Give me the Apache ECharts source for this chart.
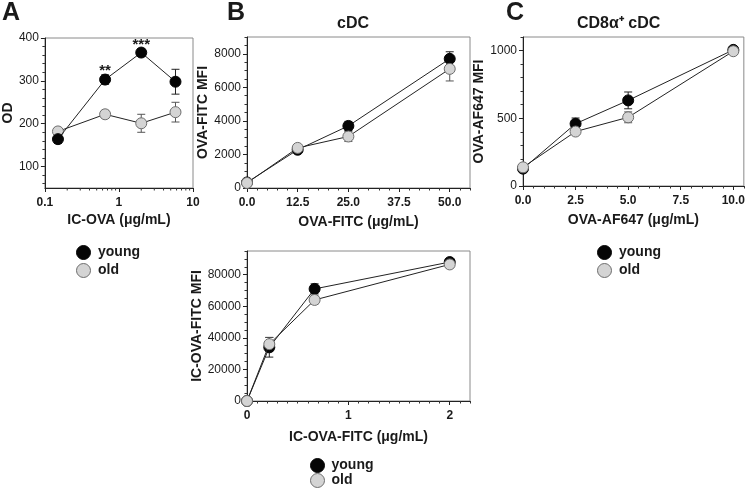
<!DOCTYPE html>
<html>
<head>
<meta charset="utf-8">
<script src="https://cdn.jsdelivr.net/npm/echarts@6/dist/echarts.min.js"></script>
<style>
  html, body { margin: 0; padding: 0; background: #fff; }
  #chart { width: 748px; height: 488px; }
</style>
</head>
<body>
<div id="chart"></div>
<script>
// panel A: IC-OVA, OD (log x axis)
const aDose = [0.15, 0.65, 2, 5.8];
const aYoung = [164, 303, 366, 298];
const aYoungErr = [10, 11, 9, 29];
const aOld = [182, 222, 201, 227];
const aOldErr = [9, 9, 21, 23];
const aSig = ['', '**', '***', ''];

// panel B: cDC, OVA-FITC
const bDose = [0, 12.5, 25, 50];
const bYoung = [330, 2280, 3700, 7700];
const bYoungErr = [60, 80, 270, 420];
const bOld = [300, 2390, 3070, 7100];
const bOldErr = [60, 100, 300, 720];

// panel C: CD8a+ cDC, OVA-AF647
const cDose = [0, 2.5, 5, 10];
const cYoung = [128, 460, 632, 1005];
const cYoungErr = [10, 42, 62, 15];
const cOld = [138, 402, 507, 995];
const cOldErr = [10, 15, 40, 22];

// panel B lower: IC-OVA-FITC
const dDose = [0, 0.22, 0.667, 2];
const dYoung = [0, 34000, 71000, 88000];
const dYoungErr = [0, 6200, 3200, 1200];
const dOld = [0, 36000, 64000, 86500];
const dOldErr = [0, 4300, 2500, 2200];

// tick labels
const aYTicks = [100, 200, 300, 400];
const bXTicks = [0, 12.5, 25, 37.5, 50];
const bYTicks = [0, 2000, 4000, 6000, 8000];
const cXTicks = [0, 2.5, 5, 7.5, 10];
const cYTicks = [0, 500, 1000];
const dXTicks = [0, 1, 2];
const dYTicks = [0, 20000, 40000, 60000, 80000];

function minorValues(start, end, step, majors) {
  const out = [];
  for (let v = start; v <= end + 1e-9; v += step) {
    const r = Math.round(v * 1000) / 1000;
    if (!majors.some(m => Math.abs(m - r) < 1e-6)) out.push(r);
  }
  return out;
}
const aXMinor = [0.2, 0.3, 0.4, 0.5, 0.6, 0.7, 0.8, 0.9, 2, 3, 4, 5, 6, 7, 8, 9];
const aYMinor = minorValues(60, 400, 20, aYTicks);
const bXMinor = minorValues(0, 55, 2.5, bXTicks);
const bYMinor = minorValues(0, 9000, 500, bYTicks);
const cXMinor = minorValues(0, 10.5, 0.5, cXTicks);
const cYMinor = minorValues(0, 1100, 100, cYTicks);
const dXMinor = minorValues(0, 2.2, 0.1, dXTicks);
const dYMinor = minorValues(0, 95000, 5000, dYTicks);

const FONT = 'Arial, "Liberation Sans", sans-serif';
const INK = '#1a1a1a';

function mainAxis(grid, min, max, ticks, name, gap, bold, fmt, pos) {
  const isX = pos === 'bottom';
  return {
    type: 'value', gridIndex: grid, min: min, max: max, position: pos,
    name: name, nameLocation: 'middle', nameGap: gap,
    nameTextStyle: { fontFamily: FONT, fontSize: 14, fontWeight: 'bold', color: INK },
    axisLine: { show: true, onZero: false, lineStyle: { color: '#222', width: 1 } },
    axisTick: { show: true, length: 4, customValues: ticks, lineStyle: { color: '#222' } },
    axisLabel: {
      customValues: ticks, fontFamily: FONT, fontSize: 12, color: INK, margin: isX ? 9 : 6,
      fontWeight: bold ? 'bold' : 'normal', formatter: fmt || (v => String(v))
    },
    splitLine: { show: false }
  };
}

function minorAxis(grid, min, max, ticks, pos) {
  return {
    type: 'value', gridIndex: grid, min: min, max: max, position: pos,
    axisLine: { show: false },
    axisTick: { show: true, length: 2.5, customValues: ticks, lineStyle: { color: '#333' } },
    axisLabel: { show: false },
    splitLine: { show: false }
  };
}

function errorBarItem(params, api) {
  const x = api.value(0);
  const lo = api.coord([x, api.value(1)]);
  const hi = api.coord([x, api.value(2)]);
  const w = 4;
  const color = api.visual('color');
  const line = (x1, y1, x2, y2) => ({
    type: 'line', shape: { x1: x1, y1: y1, x2: x2, y2: y2 },
    style: { stroke: color, lineWidth: 1 }
  });
  return {
    type: 'group',
    children: [
      line(lo[0], lo[1], hi[0], hi[1]),
      line(lo[0] - w, lo[1], lo[0] + w, lo[1]),
      line(hi[0] - w, hi[1], hi[0] + w, hi[1])
    ]
  };
}

function errSeries(name, xi, yi, xs, ys, errs, color) {
  return {
    type: 'custom', name: name, xAxisIndex: xi, yAxisIndex: yi, z: 1,
    itemStyle: { color: color },
    renderItem: errorBarItem,
    data: xs.map((x, i) => [x, ys[i] - errs[i], ys[i] + errs[i]])
  };
}

function lineSeries(name, xi, yi, xs, ys, fill, border, z) {
  return {
    type: 'line', name: name, xAxisIndex: xi, yAxisIndex: yi, z: z,
    symbol: 'circle', symbolSize: 11,
    lineStyle: { color: '#222', width: 1 },
    itemStyle: { color: fill, borderColor: border, borderWidth: 1 },
    data: xs.map((x, i) => [x, ys[i]])
  };
}

const YOUNG = '#050505';
const OLD = '#d4d4d4';
const OLD_EDGE = '#6e6e6e';

const grids = [
  { left: 42, top: 38, width: 151, height: 150 },
  { left: 247, top: 37, width: 223, height: 151 },
  { left: 523, top: 37, width: 224, height: 149 },
  { left: 247, top: 251, width: 223, height: 150 }
].map(g => Object.assign(g, { show: true, borderColor: '#8a8a8a', borderWidth: 1, containLabel: false }));

const logXAxis = {
  type: 'log', logBase: 10, gridIndex: 0, min: 0.1, max: 10, position: 'bottom',
  name: 'IC-OVA (μg/mL)', nameLocation: 'middle', nameGap: 25,
  nameTextStyle: { fontFamily: FONT, fontSize: 14, fontWeight: 'bold', color: INK },
  axisLine: { show: true, onZero: false, lineStyle: { color: '#222', width: 1 } },
  axisTick: { show: true, length: 4, lineStyle: { color: '#222' } },
  axisLabel: { fontFamily: FONT, fontSize: 12, fontWeight: 'bold', color: INK, margin: 9 },
  splitLine: { show: false }
};

const fmt1 = v => v.toFixed(1);

const xAxes = [
  logXAxis,
  mainAxis(1, 0, 55, bXTicks, 'OVA-FITC (μg/mL)', 27, true, fmt1, 'bottom'),
  mainAxis(2, 0, 10.5, cXTicks, 'OVA-AF647 (μg/mL)', 27, true, fmt1, 'bottom'),
  mainAxis(3, 0, 2.2, dXTicks, 'IC-OVA-FITC (μg/mL)', 29, true, null, 'bottom'),
  minorAxis(1, 0, 55, bXMinor, 'bottom'),
  minorAxis(2, 0, 10.5, cXMinor, 'bottom'),
  minorAxis(3, 0, 2.2, dXMinor, 'bottom')
];

const yAxes = [
  mainAxis(0, 50, 400, aYTicks, 'OD', 28, false, null, 'left'),
  mainAxis(1, 0, 9000, bYTicks, 'OVA-FITC MFI', 28, false, null, 'left'),
  mainAxis(2, 0, 1100, cYTicks, 'OVA-AF647 MFI', 32, false, null, 'left'),
  mainAxis(3, 0, 95000, dYTicks, 'IC-OVA-FITC MFI', 36, false, null, 'left'),
  minorAxis(0, 50, 400, aYMinor, 'left'),
  minorAxis(1, 0, 9000, bYMinor, 'left'),
  minorAxis(2, 0, 1100, cYMinor, 'left'),
  minorAxis(3, 0, 95000, dYMinor, 'left')
];

// minor ticks of the log axis, drawn through the log scale
const logMinorTicks = {
  type: 'custom', name: 'log minor', xAxisIndex: 0, yAxisIndex: 0, z: 1, silent: true,
  clip: false,
  renderItem: function (params, api) {
    const p = api.coord([api.value(0), 50]);
    return {
      type: 'line', shape: { x1: p[0], y1: p[1], x2: p[0], y2: p[1] + 2.5 },
      style: { stroke: '#333', lineWidth: 1 }
    };
  },
  data: aXMinor.map(v => [v])
};

// significance stars, placed just above the young error bar
const sigSeries = {
  type: 'custom', name: 'sig', xAxisIndex: 0, yAxisIndex: 0, z: 4, silent: true,
  clip: false,
  renderItem: function (params, api) {
    const p = api.coord([api.value(0), api.value(1)]);
    return {
      type: 'text', x: p[0], y: p[1] + 4,
      style: {
        text: aSig[params.dataIndex], fontFamily: FONT, fontSize: 15, fontWeight: 'bold',
        fill: INK, align: 'center', verticalAlign: 'bottom'
      }
    };
  },
  data: aDose.map((x, i) => [x, aYoung[i] + aYoungErr[i]])
};

const series = [
  logMinorTicks,
  errSeries('young err A', 0, 0, aDose, aYoung, aYoungErr, '#222'),
  errSeries('old err A', 0, 0, aDose, aOld, aOldErr, '#555'),
  lineSeries('old', 0, 0, aDose, aOld, OLD, OLD_EDGE, 2),
  lineSeries('young', 0, 0, aDose, aYoung, YOUNG, YOUNG, 3),
  sigSeries,

  errSeries('young err B', 1, 1, bDose, bYoung, bYoungErr, '#222'),
  errSeries('old err B', 1, 1, bDose, bOld, bOldErr, '#555'),
  lineSeries('young', 1, 1, bDose, bYoung, YOUNG, YOUNG, 2),
  lineSeries('old', 1, 1, bDose, bOld, OLD, OLD_EDGE, 3),

  errSeries('young err C', 2, 2, cDose, cYoung, cYoungErr, '#222'),
  errSeries('old err C', 2, 2, cDose, cOld, cOldErr, '#555'),
  lineSeries('young', 2, 2, cDose, cYoung, YOUNG, YOUNG, 2),
  lineSeries('old', 2, 2, cDose, cOld, OLD, OLD_EDGE, 3),

  errSeries('young err D', 3, 3, dDose, dYoung, dYoungErr, '#222'),
  errSeries('old err D', 3, 3, dDose, dOld, dOldErr, '#555'),
  lineSeries('young', 3, 3, dDose, dYoung, YOUNG, YOUNG, 2),
  lineSeries('old', 3, 3, dDose, dOld, OLD, OLD_EDGE, 3)
];

const legendItems = {
  young: { name: 'young', itemStyle: { color: YOUNG, borderColor: YOUNG, borderWidth: 1 } },
  old: { name: 'old', itemStyle: { color: OLD, borderColor: OLD_EDGE, borderWidth: 1 } }
};

function legendAt(left, top, w, gap, names) {
  return {
    orient: 'vertical', left: left, top: top, padding: 0,
    itemWidth: w, itemHeight: 14, itemGap: gap,
    selectedMode: false, icon: 'circle',
    textStyle: { fontFamily: FONT, fontSize: 14, lineHeight: 14, fontWeight: 'bold', color: INK },
    data: names.map(n => legendItems[n])
  };
}

const textEl = (left, top, text, size) => ({
  type: 'text', left: left, top: top,
  style: { text: text, fontFamily: FONT, fontSize: size, fontWeight: 'bold', fill: INK }
});

const chart = echarts.init(document.getElementById('chart'), null, { renderer: 'canvas' });
chart.setOption({
  animation: false,
  backgroundColor: '#fff',
  grid: grids,
  xAxis: xAxes,
  yAxis: yAxes,
  legend: [
    legendAt(76, 245, 19, 3, ['young', 'old']),
    legendAt(310, 458, 18, 1, ['young']),
    legendAt(310, 473, 18, 1, ['old']),
    legendAt(597, 245, 19, 3, ['young', 'old'])
  ],
  graphic: [
    textEl(2, 1, 'A', 25),
    textEl(227, 1, 'B', 25),
    textEl(506, 1, 'C', 25),
    textEl(337, 16, 'cDC', 16),
    textEl(577, 16, 'CD8α⁺ cDC', 16)
  ],
  series: series
});
</script>
</body>
</html>
